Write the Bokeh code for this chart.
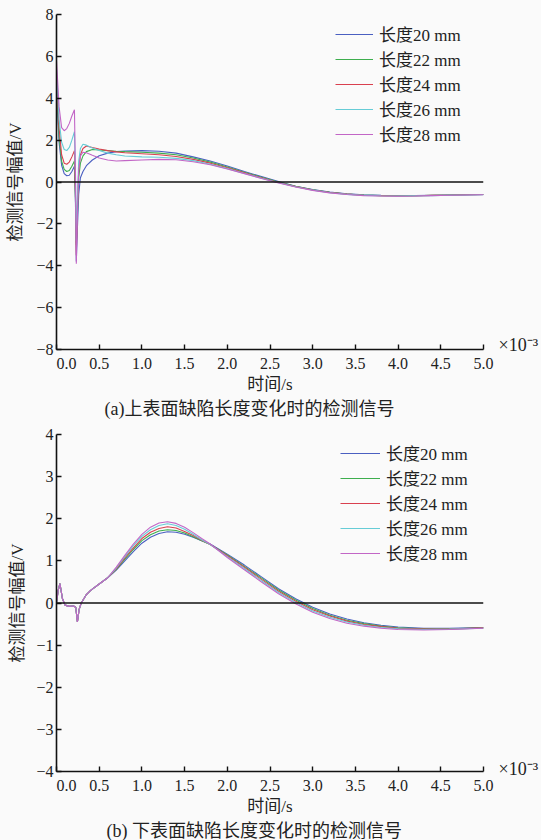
from bokeh.plotting import figure
from bokeh.layouts import column
from bokeh.models import Span, Legend, LegendItem, FixedTicker, LinearAxis, Title
from bokeh.embed import file_html
from bokeh.resources import INLINE

# ---------------- data ----------------
series_names = ["长度20 mm", "长度22 mm", "长度24 mm", "长度26 mm", "长度28 mm"]
colors = ["#4a5fc1", "#3dae4e", "#d9404f", "#66ccd6", "#c266c6"]

# (a) upper-surface defect, time in ms (x 10^-3 s)
t_top = [0.0, 0.03, 0.06, 0.09, 0.12, 0.15, 0.18, 0.21, 0.222, 0.232, 0.245, 0.26, 0.28,
         0.31, 0.35, 0.42, 0.5, 0.6, 0.7, 0.8, 1.0,
         1.2, 1.4, 1.6, 1.8, 2.0, 2.2, 2.4, 2.6, 2.8, 3.0, 3.2, 3.4, 3.6, 3.8, 4.0, 4.2, 4.4, 4.6, 4.8, 5.0]
top_20 = [4.3, 1.9, 0.8, 0.4, 0.3, 0.32, 0.5, 0.75, -1.0, -3.8, -2.2, -0.6, 0.2,
          0.5, 0.78, 1.05, 1.25, 1.38, 1.45, 1.48, 1.5,
          1.47, 1.38, 1.2, 1.0, 0.76, 0.5, 0.26, 0.02, -0.2, -0.36, -0.48, -0.56, -0.61, -0.64, -0.66, -0.65, -0.63, -0.62, -0.61, -0.6]
top_22 = [4.6, 2.2, 1.0, 0.6, 0.5, 0.55, 0.75, 1.0, -0.8, -3.0, -1.6, 0.2, 0.9,
          1.25, 1.45, 1.55, 1.53, 1.5, 1.47, 1.45, 1.42,
          1.38, 1.3, 1.15, 0.95, 0.72, 0.47, 0.23, 0.0, -0.21, -0.37, -0.49, -0.57, -0.62, -0.65, -0.66, -0.66, -0.64, -0.62, -0.61, -0.6]
top_24 = [5.0, 2.6, 1.3, 0.9, 0.85, 0.95, 1.2, 1.5, -0.5, -3.5, -1.2, 0.6, 1.3,
          1.6, 1.72, 1.65, 1.58, 1.5, 1.44, 1.4, 1.35,
          1.3, 1.22, 1.08, 0.9, 0.68, 0.44, 0.2, -0.02, -0.22, -0.38, -0.5, -0.58, -0.63, -0.65, -0.67, -0.66, -0.64, -0.63, -0.61, -0.6]
top_26 = [5.4, 3.0, 1.9, 1.55, 1.5, 1.65, 2.0, 2.4, 0.2, -2.8, -0.8, 1.0, 1.6,
          1.8, 1.76, 1.62, 1.5, 1.38, 1.3, 1.24, 1.2,
          1.18, 1.13, 1.02, 0.85, 0.64, 0.41, 0.18, -0.04, -0.23, -0.39, -0.51, -0.59, -0.64, -0.66, -0.67, -0.66, -0.65, -0.63, -0.62, -0.61]
top_28 = [5.8, 3.6, 2.6, 2.45, 2.55, 2.8, 3.15, 3.45, 0.5, -3.9, -1.5, 0.6, 1.25,
          1.42, 1.4, 1.28, 1.15, 1.05, 1.0, 1.02, 1.05,
          1.08, 1.06, 0.97, 0.82, 0.62, 0.4, 0.17, -0.05, -0.24, -0.4, -0.52, -0.6, -0.65, -0.67, -0.68, -0.67, -0.65, -0.63, -0.62, -0.61]

# (b) lower-surface defect
t_bot = [0.0, 0.02, 0.04, 0.07, 0.1, 0.15, 0.2, 0.225, 0.245, 0.265, 0.29, 0.35, 0.4, 0.5, 0.6,
         0.7, 0.8, 0.9, 1.0, 1.1, 1.2, 1.3, 1.4, 1.5, 1.6, 1.7, 1.8,
         2.0, 2.2, 2.4, 2.6, 2.8, 3.0, 3.2, 3.4, 3.6, 3.8, 4.0,
         4.3, 4.6, 5.0]
bot_20 = [0.0, 0.3, 0.46, 0.1, -0.05, -0.08, -0.07, -0.1, -0.45, -0.15, 0.0, 0.2, 0.3, 0.45, 0.6,
          0.78, 1.0, 1.22, 1.42, 1.56, 1.65, 1.69, 1.68, 1.63, 1.56, 1.48, 1.4,
          1.16, 0.9, 0.62, 0.34, 0.1, -0.1, -0.26, -0.38, -0.47, -0.53, -0.57,
          -0.6, -0.6, -0.58]
bot_22 = [0.0, 0.3, 0.46, 0.1, -0.05, -0.08, -0.07, -0.1, -0.45, -0.15, 0.0, 0.2, 0.3, 0.45, 0.6,
          0.8, 1.04, 1.27, 1.48, 1.62, 1.71, 1.74, 1.72, 1.66, 1.57, 1.48, 1.39,
          1.14, 0.87, 0.59, 0.31, 0.07, -0.13, -0.29, -0.41, -0.49, -0.55, -0.59,
          -0.61, -0.61, -0.59]
bot_24 = [0.0, 0.3, 0.46, 0.1, -0.05, -0.08, -0.07, -0.1, -0.45, -0.15, 0.0, 0.2, 0.3, 0.45, 0.6,
          0.81, 1.07, 1.31, 1.53, 1.68, 1.77, 1.81, 1.78, 1.7, 1.6, 1.49, 1.39,
          1.12, 0.85, 0.56, 0.28, 0.04, -0.16, -0.31, -0.43, -0.51, -0.56, -0.6,
          -0.62, -0.62, -0.59]
bot_26 = [0.0, 0.3, 0.46, 0.1, -0.05, -0.08, -0.07, -0.1, -0.45, -0.15, 0.0, 0.2, 0.3, 0.45, 0.6,
          0.83, 1.1, 1.36, 1.58, 1.74, 1.84, 1.88, 1.84, 1.75, 1.63, 1.5, 1.39,
          1.1, 0.82, 0.53, 0.25, 0.01, -0.19, -0.34, -0.45, -0.53, -0.58, -0.61,
          -0.63, -0.62, -0.6]
bot_28 = [0.0, 0.3, 0.46, 0.1, -0.05, -0.08, -0.07, -0.1, -0.45, -0.15, 0.0, 0.2, 0.3, 0.45, 0.6,
          0.85, 1.13, 1.4, 1.63, 1.8, 1.9, 1.93, 1.89, 1.8, 1.67, 1.53, 1.4,
          1.08, 0.79, 0.5, 0.22, -0.02, -0.22, -0.37, -0.48, -0.55, -0.6, -0.63,
          -0.64, -0.63, -0.6]

x_ticks = [0.0, 0.5, 1.0, 1.5, 2.0, 2.5, 3.0, 3.5, 4.0, 4.5, 5.0]
x_tick_labels = ["\u00a0\u00a0\u00a0\u00a0\u00a00.0", "0.5", "1.0", "1.5", "2.0", "2.5", "3.0", "3.5", "4.0", "4.5", "5.0"]
top_y_ticks = [-8, -6, -4, -2, 0, 2, 4, 6, 8]
top_y_labels = ["\u22128", "\u22126", "\u22124", "\u22122", "0", "2", "4", "6", "8"]
bot_y_ticks = [-4, -3, -2, -1, 0, 1, 2, 3, 4]
bot_y_labels = ["\u22124", "\u22123", "\u22122", "\u22121", "0", "1", "2", "3", "4"]

x_label = "时间/s"
y_label = "检测信号幅值/V"
captions = ["(a)上表面缺陷长度变化时的检测信号", "(b) 下表面缺陷长度变化时的检测信号"]
exp_label = "\u00d710\u207b\u00b3"

FONT = "Liberation Serif, Noto Sans CJK SC"
BG = "#fafafa"
TXT = "#222222"


def make_panel(t, ys, yr, yt, yl, bottom_border, legend_loc, glyph_w, caption, cap_offset,
               exp_y, ylab_standoff):
    p = figure(width=541, height=420, x_range=(0, 5.0), y_range=yr,
               output_backend="svg", toolbar_location=None,
               min_border_left=56, min_border_right=57, min_border_top=14,
               min_border_bottom=bottom_border,
               background_fill_color=BG, border_fill_color=BG,
               outline_line_color=None)
    p.grid.visible = False

    xa = p.xaxis[0]
    xa.ticker = FixedTicker(ticks=x_ticks)
    xa.major_label_overrides = dict(zip(x_ticks, x_tick_labels))
    xa.axis_label = x_label
    ya = p.yaxis[0]
    ya.ticker = FixedTicker(ticks=yt)
    ya.major_label_overrides = dict(zip(yt, yl))
    ya.axis_label = y_label
    for ax in (xa, ya):
        ax.axis_line_color = "#111111"
        ax.axis_line_width = 1.6
        ax.major_tick_line_color = "#111111"
        ax.major_tick_line_width = 1.4
        ax.major_tick_in = 5
        ax.major_tick_out = 0
        ax.minor_tick_line_color = None
        ax.major_label_text_font = FONT
        ax.major_label_text_font_size = "16px"
        ax.major_label_text_color = TXT
        ax.axis_label_text_font = FONT
        ax.axis_label_text_font_size = "17px"
        ax.axis_label_text_font_style = "normal"
        ax.axis_label_text_color = TXT
        ax.major_label_standoff = 3
    xa.major_label_standoff = 5
    xa.axis_label_standoff = 0
    ya.axis_label_standoff = ylab_standoff

    # x10^-3 multiplier shown as a label-only axis at the right
    ra = LinearAxis(ticker=FixedTicker(ticks=[exp_y]),
                    major_label_overrides={exp_y: exp_label},
                    axis_line_color=None, major_tick_line_color=None,
                    minor_tick_line_color=None, major_label_standoff=9,
                    major_label_text_font=FONT, major_label_text_font_size="18px",
                    major_label_text_color=TXT)
    p.add_layout(ra, "right")

    p.add_layout(Span(location=0, dimension="width", line_color="#111111", line_width=1.6))

    items = []
    for name, col, y in zip(series_names, colors, ys):
        r = p.line(t, y, line_color=col, line_width=1.1)
        items.append(LegendItem(label=name, renderers=[r]))

    leg = Legend(items=items, location=legend_loc, padding=0, margin=0, spacing=0,
                 glyph_height=20, label_height=20, glyph_width=glyph_w, label_standoff=6,
                 background_fill_alpha=0, border_line_alpha=0,
                 label_text_font=FONT, label_text_font_size="17px", label_text_color=TXT)
    p.add_layout(leg)

    p.add_layout(Title(text=caption, align="left", offset=cap_offset, standoff=0,
                       text_font=FONT, text_font_size="18px", text_font_style="normal",
                       text_color=TXT), "below")
    return p


p1 = make_panel(t_top, [top_20, top_22, top_24, top_26, top_28], (-8, 8),
                top_y_ticks, top_y_labels, 71, (279, 203), 38, captions[0], 48, -7.8, 8)
p2 = make_panel(t_bot, [bot_20, bot_22, bot_24, bot_26, bot_28], (-4, 4),
                bot_y_ticks, bot_y_labels, 68, (284, 206), 40, captions[1], 50, -3.95, 6)

layout = column(p1, p2, spacing=0)
layout.styles = {"background-color": BG}
open("out.html", "w").write(file_html(layout, INLINE))
